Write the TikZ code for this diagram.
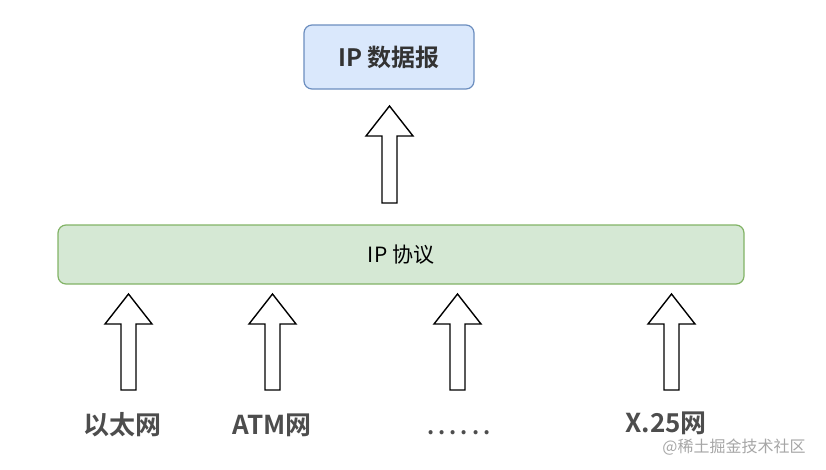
\documentclass[tikz,border=0pt]{standalone}
\usepackage{fontspec}
\newfontfamily\cjk{Noto Sans CJK SC}[BoldFont={* Bold}]
\definecolor{dgblue}{HTML}{DAE8FC}
\definecolor{dgblueline}{HTML}{6C8EBF}
\definecolor{dggreen}{HTML}{D5E8D4}
\definecolor{dggreenline}{HTML}{82B366}
\definecolor{labelgray}{HTML}{4D4D4D}
% hollow up arrow: x, tip y, tail y
\newcommand{\upblock}[3]{%
  \draw[blockarr] (#1-7.5,#3) -- (#1-7.5,#2+30) -- (#1-23.5,#2+30) -- (#1,#2)
    -- (#1+23.5,#2+30) -- (#1+7.5,#2+30) -- (#1+7.5,#3) -- cycle;}
\begin{document}
\begin{tikzpicture}[
        x=1pt, y=-1pt,
        every node/.style={font=\cjk},
        box/.style={draw, rounded corners=8pt, line width=1.2pt, inner sep=0pt},
        blockarr/.style={draw=black, fill=white, line width=1.4pt, line join=miter},
        netlabel/.style={text=labelgray, font=\cjk\bfseries\fontsize{26}{30}\selectfont},
    ]
    \useasboundingbox (0,0) rectangle (826,469);
    \node[box, fill=dgblue, draw=dgblueline, minimum width=170pt, minimum height=64pt,
        text=black!80, font=\cjk\bfseries\fontsize{24}{28}\selectfont] (datagram) at (389,57) {IP 数据报};
    \node[box, fill=dggreen, draw=dggreenline, minimum width=686pt, minimum height=59pt,
        text=black, font=\cjk\fontsize{21}{25}\selectfont] (ipproto) at (401,254.5) {IP 协议};
    \upblock{389.5}{106}{203}
    \upblock{128.5}{294}{390}
    \upblock{272.5}{294}{390}
    \upblock{457.5}{294}{390}
    \upblock{671.5}{294}{390}
    \node[netlabel] (ether) at (122,425) {以太网};
    \node[netlabel] (atm) at (272,425) {ATM网};
    \node[netlabel, anchor=base, font=\cjk\bfseries\fontsize{22}{26}\selectfont\addfontfeature{LetterSpace=18}] (more) at (459,434) {......};
    \node[netlabel] (x25) at (666,423) {X.25网};
    \node[text=black!35, font=\cjk\fontsize{16}{18}\selectfont] (mark) at (734,447) {@稀土掘金技术社区};
    \end{tikzpicture}
\end{document}
